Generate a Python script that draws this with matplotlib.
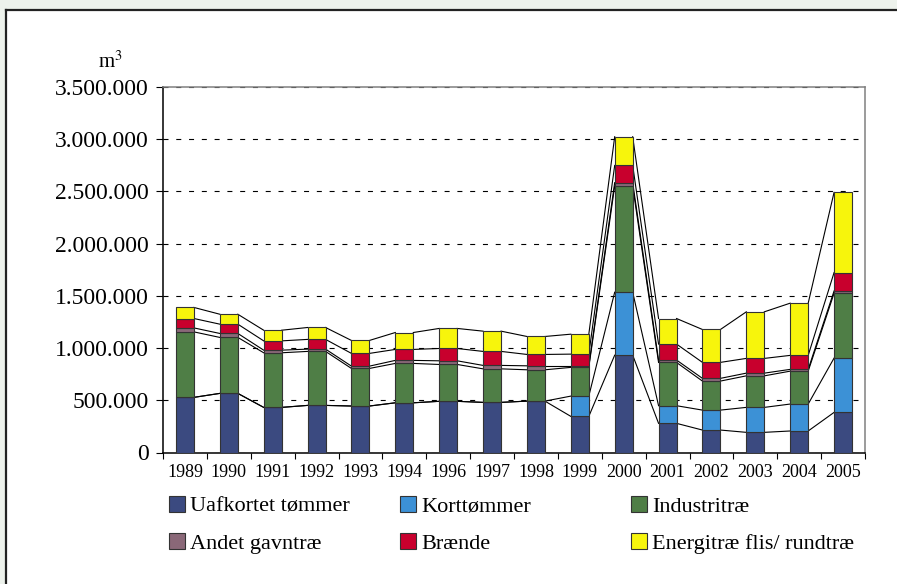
import matplotlib
matplotlib.use('Agg')
import matplotlib.pyplot as plt
from matplotlib.patches import Rectangle, Patch
from matplotlib.lines import Line2D
from matplotlib.ticker import FuncFormatter, FixedLocator
import numpy as np

plt.rcParams['font.family'] = ['Liberation Serif', 'DejaVu Serif']

years = ['1989', '1990', '1991', '1992', '1993', '1994', '1996', '1997',
         '1998', '1999', '2000', '2001', '2002', '2003', '2004', '2005']

# m3 (thousands * 1000)
uafkortet = np.array([528, 566, 432, 451, 445, 476, 490, 480, 492, 346, 932, 279, 215, 193, 206, 384]) * 1000
korttommer = np.array([0, 0, 0, 0, 0, 0, 0, 0, 0, 194, 603, 169, 191, 239, 258, 520]) * 1000
industri = np.array([627, 536, 523, 517, 360, 377, 353, 321, 300, 275, 1016, 414, 278, 302, 315, 621]) * 1000
andet = np.array([38, 38, 25, 22, 22, 29, 35, 33, 38, 15, 33, 23, 26, 26, 17, 22]) * 1000
braende = np.array([90, 89, 89, 93, 122, 105, 118, 134, 109, 112, 165, 153, 153, 141, 134, 176]) * 1000
energi = np.array([106, 95, 102, 114, 124, 162, 192, 194, 172, 191, 275, 245, 315, 446, 500, 768]) * 1000

series = [uafkortet, korttommer, industri, andet, braende, energi]
labels = ['Uafkortet tømmer', 'Korttømmer', 'Industritræ',
          'Andet gavntræ', 'Brænde', 'Energitræ flis/ rundtræ']
colors = ['#3B4A80', '#3C91D6', '#4F7E46', '#8A6878', '#C8002D', '#F7F50C']

W, H = 897, 584
fig = plt.figure(figsize=(W / 100, H / 100), dpi=100)
fig.patch.set_facecolor('#EDF2EC')

# white panel with dark top/left edge
fig.patches.append(Rectangle((6 / W, 0), 1 - 6 / W, 1 - 10 / H, transform=fig.transFigure,
                             facecolor='white', edgecolor='none', zorder=-10))
fig.lines.append(Line2D([6 / W, 6 / W], [0, 1 - 10 / H], transform=fig.transFigure,
                        color='#222222', lw=1.6, zorder=-5))
fig.lines.append(Line2D([6 / W, 1], [1 - 10 / H, 1 - 10 / H], transform=fig.transFigure,
                        color='#222222', lw=1.6, zorder=-5))

ax = fig.add_axes([163 / W, 1 - 452.5 / H, 702 / W, 365.5 / H])
ax.set_facecolor('white')

x = np.arange(len(years))
bw = 0.41
bottom = np.zeros(len(years))
tops = []
for vals, col in zip(series, colors):
    ax.bar(x, vals, bw, bottom=bottom, color=col, edgecolor='#333333', linewidth=0.8, zorder=3)
    bottom = bottom + vals
    tops.append(bottom.copy())

# series lines between bar tops
for top in tops:
    for i in range(len(years) - 1):
        ax.plot([x[i] + bw / 2, x[i + 1] - bw / 2], [top[i], top[i + 1]],
                color='black', lw=0.8, zorder=2)

ax.set_xlim(-0.5, len(years) - 0.5)
ax.set_ylim(0, 3500000)
ax.set_yticks(np.arange(0, 3500001, 500000))
ax.yaxis.set_major_formatter(FuncFormatter(lambda v, p: f"{int(v):,}".replace(',', '.')))
ax.tick_params(axis='y', direction='out', length=5, width=0.8, labelsize=17, pad=5)

ax.set_xticks(x)
ax.set_xticklabels(years)
ax.xaxis.set_minor_locator(FixedLocator(np.arange(-0.5, len(years), 1)))
ax.tick_params(axis='x', which='major', length=0, labelsize=13, pad=8)
ax.tick_params(axis='x', which='minor', direction='out', length=4.5, width=0.8)

ax.grid(axis='y', color='black', lw=0.8, linestyle=(0, (4.5, 7)))
ax.set_axisbelow(True)

for s in ['left', 'bottom']:
    ax.spines[s].set_color('black')
    ax.spines[s].set_linewidth(1.1)
for s in ['top', 'right']:
    ax.spines[s].set_color('#808080')
    ax.spines[s].set_linewidth(1.1)

fig.text(110 / W, 1 - 62 / H, 'm$^3$', fontsize=15, ha='center', va='center',
         math_fontfamily='stix')

# legend: three columns, two rows each
col_x = [169 / W, 400 / W, 631 / W]
for c in range(3):
    handles = [Patch(facecolor=colors[c], edgecolor='#333333', linewidth=0.8),
               Patch(facecolor=colors[c + 3], edgecolor='#333333', linewidth=0.8)]
    fig.legend(handles, [labels[c], labels[c + 3]], loc='upper left',
               bbox_to_anchor=(col_x[c], 1 - 496 / H), frameon=False, fontsize=16,
               borderpad=0, borderaxespad=0, handlelength=0.7, handleheight=0.7,
               handletextpad=0.25, labelspacing=0.75)

fig.savefig('out.png', dpi=100, facecolor=fig.get_facecolor())
